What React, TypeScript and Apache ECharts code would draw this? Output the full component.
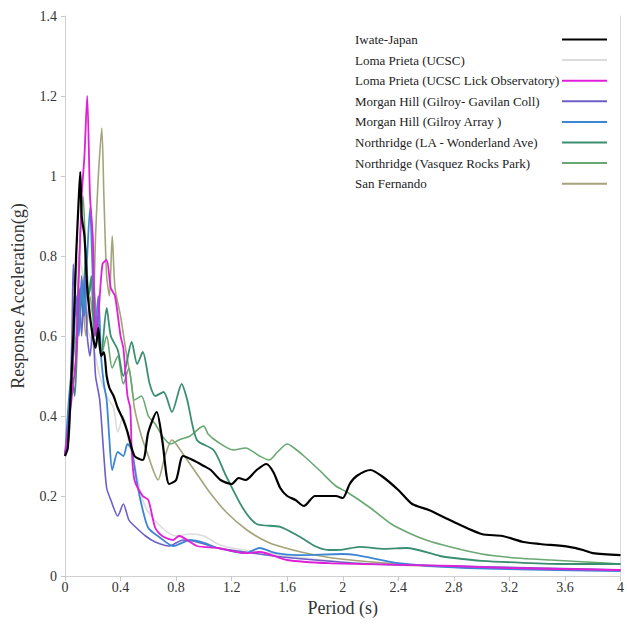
import React, { useEffect, useRef } from "react";
import * as echarts from "echarts";

const seriesNames = [
  "Iwate-Japan",
  "Loma Prieta (UCSC)",
  "Loma Prieta (UCSC Lick Observatory)",
  "Morgan Hill (Gilroy- Gavilan Coll)",
  "Morgan Hill (Gilroy Array )",
  "Northridge (LA - Wonderland Ave)",
  "Northridge (Vasquez Rocks Park)",
  "San Fernando",
];

const seriesColors = ["#000000", "#dcdcdc", "#e020d8", "#6c5fc8", "#3d86d6", "#3a8f70", "#6aa872", "#a4a47a"];
const seriesWidths = [2.2, 1.6, 1.8, 1.6, 1.8, 1.8, 1.6, 1.6];

const iwate: number[][] = [
  [0, 0.3], [0.02, 0.32], [0.04, 0.45], [0.06, 0.6], [0.08, 0.8], [0.1, 0.95], [0.11, 1.01], [0.12, 0.9],
  [0.14, 0.85], [0.16, 0.72], [0.18, 0.65], [0.2, 0.6], [0.22, 0.57], [0.24, 0.62], [0.26, 0.55], [0.28, 0.56],
  [0.3, 0.5], [0.32, 0.47], [0.35, 0.45], [0.38, 0.42], [0.42, 0.39], [0.45, 0.36], [0.5, 0.3], [0.56, 0.29],
  [0.6, 0.36], [0.66, 0.41], [0.7, 0.34], [0.75, 0.23], [0.8, 0.24], [0.85, 0.3], [0.92, 0.29], [1.0, 0.275],
  [1.05, 0.265], [1.12, 0.24], [1.2, 0.23], [1.25, 0.245], [1.3, 0.24], [1.38, 0.265], [1.45, 0.28], [1.5, 0.26],
  [1.55, 0.22], [1.6, 0.2], [1.66, 0.19], [1.72, 0.175], [1.8, 0.2], [1.9, 0.2], [1.95, 0.2], [2.0, 0.195],
  [2.05, 0.23], [2.1, 0.25], [2.2, 0.265], [2.28, 0.25], [2.4, 0.215], [2.5, 0.18], [2.62, 0.165], [2.77, 0.14],
  [3.0, 0.105], [3.15, 0.1], [3.3, 0.085], [3.42, 0.08], [3.63, 0.073], [3.73, 0.065], [3.8, 0.057], [4.0, 0.052],
];

const lomaUcsc: number[][] = [
  [0, 0.3], [0.04, 0.45], [0.07, 0.7], [0.1, 0.8], [0.13, 0.75], [0.16, 0.62], [0.2, 0.58], [0.25, 0.5],
  [0.3, 0.45], [0.35, 0.42], [0.38, 0.36], [0.42, 0.4], [0.45, 0.35], [0.5, 0.28], [0.55, 0.2], [0.6, 0.16],
  [0.7, 0.12], [0.8, 0.1], [0.9, 0.105], [1.0, 0.1], [1.1, 0.08], [1.2, 0.07], [1.4, 0.06], [1.6, 0.05],
  [2.0, 0.035], [2.5, 0.025], [3.0, 0.02], [4.0, 0.015],
];

const lomaLick: number[][] = [
  [0, 0.3], [0.05, 0.45], [0.08, 0.55], [0.1, 0.75], [0.12, 0.95], [0.14, 1.05], [0.16, 1.2], [0.18, 0.95],
  [0.2, 0.85], [0.22, 0.6], [0.24, 0.65], [0.27, 0.78], [0.3, 0.79], [0.33, 0.72], [0.36, 0.7], [0.4, 0.6],
  [0.42, 0.57], [0.45, 0.45], [0.47, 0.42], [0.48, 0.32], [0.5, 0.24], [0.56, 0.2], [0.6, 0.19], [0.65, 0.12],
  [0.7, 0.1], [0.78, 0.09], [0.82, 0.1], [0.95, 0.075], [1.1, 0.07], [1.3, 0.057], [1.4, 0.06], [1.6, 0.04],
  [1.9, 0.032], [2.4, 0.028], [2.8, 0.025], [3.2, 0.02], [4.0, 0.015],
];

const morganGavilan: number[][] = [
  [0, 0.3], [0.03, 0.4], [0.05, 0.6], [0.06, 0.78], [0.08, 0.65], [0.1, 0.72], [0.12, 0.6], [0.14, 0.75],
  [0.16, 0.6], [0.18, 0.55], [0.2, 0.62], [0.22, 0.5], [0.25, 0.44], [0.28, 0.3], [0.3, 0.22], [0.33, 0.19],
  [0.38, 0.15], [0.42, 0.18], [0.46, 0.14], [0.5, 0.125], [0.58, 0.1], [0.65, 0.085], [0.75, 0.075], [0.85, 0.09],
  [0.95, 0.085], [1.1, 0.07], [1.3, 0.06], [1.5, 0.05], [1.8, 0.04], [2.2, 0.03], [2.8, 0.025], [3.4, 0.02],
  [4.0, 0.015],
];

const morganArray: number[][] = [
  [0, 0.3], [0.03, 0.45], [0.06, 0.55], [0.08, 0.7], [0.1, 0.6], [0.12, 0.75], [0.14, 0.65], [0.16, 0.8],
  [0.18, 0.92], [0.2, 0.75], [0.22, 0.62], [0.24, 0.7], [0.26, 0.55], [0.28, 0.48], [0.3, 0.44], [0.32, 0.34],
  [0.34, 0.265], [0.38, 0.31], [0.42, 0.3], [0.45, 0.33], [0.48, 0.315], [0.52, 0.23], [0.56, 0.165], [0.6, 0.12],
  [0.68, 0.097], [0.78, 0.075], [0.9, 0.09], [1.0, 0.083], [1.1, 0.07], [1.3, 0.057], [1.4, 0.07], [1.52, 0.057],
  [1.68, 0.052], [2.0, 0.055], [2.1, 0.052], [2.4, 0.032], [2.9, 0.02], [4.0, 0.012],
];

const northWonderland: number[][] = [
  [0, 0.3], [0.03, 0.4], [0.05, 0.5], [0.07, 0.45], [0.09, 0.6], [0.11, 0.72], [0.13, 0.65], [0.15, 0.82],
  [0.17, 0.7], [0.19, 0.75], [0.21, 0.6], [0.23, 0.65], [0.26, 0.55], [0.3, 0.67], [0.33, 0.6], [0.38, 0.565],
  [0.42, 0.5], [0.48, 0.585], [0.52, 0.53], [0.56, 0.56], [0.61, 0.48], [0.65, 0.45], [0.71, 0.46], [0.77, 0.41],
  [0.84, 0.48], [0.88, 0.44], [0.95, 0.34], [1.07, 0.315], [1.16, 0.25], [1.28, 0.17], [1.38, 0.13], [1.55, 0.123],
  [1.69, 0.098], [1.81, 0.073], [1.9, 0.065], [2.0, 0.066], [2.12, 0.073], [2.3, 0.068], [2.46, 0.07], [2.7, 0.05],
  [2.8, 0.045], [3.0, 0.038], [3.3, 0.033], [3.6, 0.03], [4.0, 0.03],
];

const northVasquez: number[][] = [
  [0, 0.3], [0.03, 0.35], [0.05, 0.55], [0.07, 0.5], [0.09, 0.7], [0.11, 0.85], [0.13, 0.95], [0.15, 0.8],
  [0.17, 0.7], [0.2, 0.75], [0.23, 0.62], [0.26, 0.55], [0.3, 0.6], [0.34, 0.52], [0.38, 0.55], [0.42, 0.48],
  [0.46, 0.52], [0.5, 0.44], [0.55, 0.45], [0.6, 0.4], [0.65, 0.38], [0.7, 0.35], [0.76, 0.33], [0.82, 0.34],
  [0.9, 0.35], [0.97, 0.37], [1.0, 0.375], [1.03, 0.355], [1.1, 0.335], [1.21, 0.315], [1.3, 0.32], [1.4, 0.3],
  [1.47, 0.29], [1.53, 0.31], [1.6, 0.33], [1.65, 0.32], [1.72, 0.3], [1.83, 0.265], [1.95, 0.225], [2.03, 0.21],
  [2.2, 0.17], [2.35, 0.13], [2.48, 0.107], [2.6, 0.09], [2.77, 0.073], [3.0, 0.055], [3.25, 0.045], [3.5, 0.04],
  [3.75, 0.035], [4.0, 0.03],
];

const sanFernando: number[][] = [
  [0, 0.3], [0.03, 0.4], [0.06, 0.55], [0.09, 0.62], [0.12, 0.72], [0.15, 0.6], [0.18, 0.7], [0.2, 0.65],
  [0.22, 0.85], [0.24, 1.0], [0.265, 1.12], [0.28, 0.95], [0.3, 0.75], [0.32, 0.7], [0.34, 0.85], [0.36, 0.72],
  [0.4, 0.65], [0.44, 0.56], [0.48, 0.48], [0.5, 0.42], [0.55, 0.35], [0.6, 0.3], [0.64, 0.26], [0.67, 0.24],
  [0.72, 0.3], [0.77, 0.34], [0.8, 0.33], [0.88, 0.29], [0.96, 0.25], [1.04, 0.21], [1.16, 0.16], [1.31, 0.115],
  [1.47, 0.083], [1.64, 0.065], [1.81, 0.052], [2.0, 0.042], [2.4, 0.03], [3.0, 0.02], [4.0, 0.015],
];

const seriesData = [iwate, lomaUcsc, lomaLick, morganGavilan, morganArray, northWonderland, northVasquez, sanFernando];

const font = "Liberation Serif";

export default function App() {
  const ref = useRef<HTMLDivElement>(null);
  useEffect(() => {
    if (!ref.current) return;
    const chart = echarts.init(ref.current, undefined, { renderer: "svg" });
    const drawOrder = [1, 7, 6, 5, 3, 4, 2, 0];
    chart.setOption({
      animation: false,
      backgroundColor: "#ffffff",
      textStyle: { fontFamily: font },
      grid: { left: 65, right: 6, top: 16, bottom: 61 },
      legend: {
        data: seriesNames,
        orient: "vertical",
        right: 15,
        top: 28,
        align: "right",
        icon: "rect",
        itemWidth: 45,
        itemHeight: 2,
        itemGap: 7.6,
        formatter: (name: string) => "{a|" + name + "}",
        textStyle: {
          fontFamily: font,
          fontSize: 13,
          color: "#222",
          rich: { a: { width: 202, align: "left", fontFamily: font, fontSize: 13, color: "#222" } },
        },
      },
      xAxis: {
        type: "value",
        min: 0,
        max: 4,
        interval: 0.4,
        name: "Period (s)",
        nameLocation: "middle",
        nameGap: 14,
        nameTextStyle: { fontFamily: font, fontSize: 18, color: "#333" },
        axisLine: { show: true, lineStyle: { color: "#d0d0d0", width: 1 } },
        axisTick: { show: true, length: 5, lineStyle: { color: "#c8c8c8" } },
        axisLabel: { fontFamily: font, fontSize: 14, color: "#333", margin: 4 },
        splitLine: { show: false },
      },
      yAxis: [
        {
          type: "value",
          min: 0,
          max: 1.4,
          interval: 0.2,
          name: "Response Acceleration(g)",
          nameLocation: "middle",
          nameGap: 38,
          nameTextStyle: { fontFamily: font, fontSize: 18, color: "#333" },
          axisLine: { show: true, lineStyle: { color: "#d0d0d0", width: 1 } },
          axisTick: { show: true, length: 4, lineStyle: { color: "#c8c8c8" } },
          axisLabel: { fontFamily: font, fontSize: 14, color: "#333", margin: 8 },
          splitLine: { show: false },
        },
        {
          type: "value",
          position: "right",
          min: 0,
          max: 1.4,
          interval: 0.2,
          axisLine: { show: true, lineStyle: { color: "#d8d8d8", width: 1 } },
          axisTick: { show: false },
          axisLabel: { show: false },
          splitLine: { show: false },
        },
      ],
      series: drawOrder.map((i) => ({
        name: seriesNames[i],
        type: "line",
        data: seriesData[i],
        symbol: "none",
        smooth: 0.25,
        z: 2 + drawOrder.indexOf(i),
        lineStyle: { color: seriesColors[i], width: seriesWidths[i] },
        itemStyle: { color: seriesColors[i] },
      })),
    });
    return () => chart.dispose();
  }, []);
  return <div ref={ref} style={{ position: "fixed", left: 0, top: 0, width: 627, height: 637 }} />;
}
